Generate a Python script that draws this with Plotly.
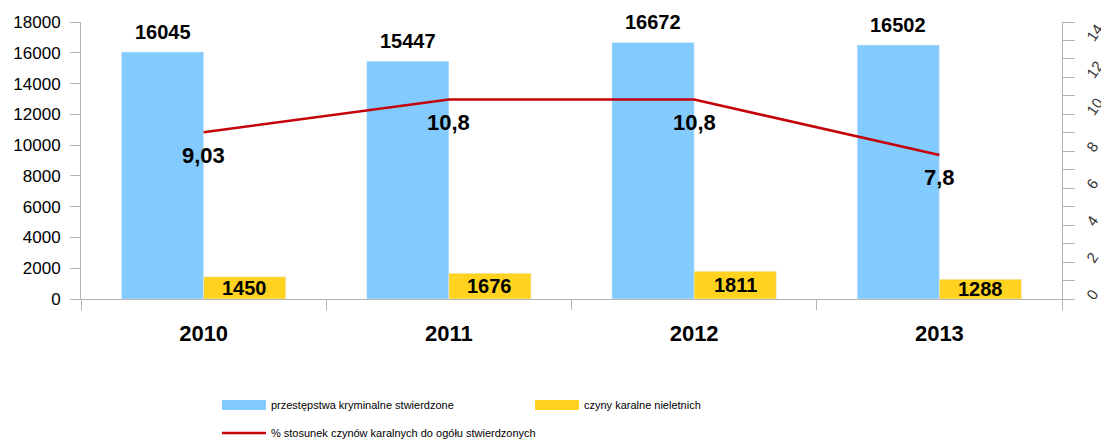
import plotly.graph_objects as go

years = ["2010", "2011", "2012", "2013"]
crimes = [16045, 15447, 16672, 16502]
juvenile = [1450, 1676, 1811, 1288]
percent = [9.03, 10.8, 10.8, 7.8]

BLUE = "#83caff"
YELLOW = "#ffd320"
RED = "#c5000b"
AXIS = "#b3b3b3"
FONT = "Liberation Sans, Arial, sans-serif"

fig = go.Figure()
fig.add_trace(go.Bar(x=years, y=crimes, marker_color=BLUE, name="przestępstwa kryminalne stwierdzone",
                     showlegend=False))
fig.add_trace(go.Bar(x=years, y=juvenile, marker_color=YELLOW, name="czyny karalne nieletnich",
                     showlegend=False))
fig.add_trace(go.Scatter(x=years, y=percent, yaxis="y2", mode="lines",
                         line=dict(color=RED, width=2.6), showlegend=False,
                         name="% stosunek czynów karalnych do ogółu stwierdzonych"))

# legend-only entries (wide swatches), drawn on a hidden spare axis pair, one legend box each
for nm, col, w, lg in [("przestępstwa kryminalne stwierdzone", BLUE, 10, "legend"),
                       ("czyny karalne nieletnich", YELLOW, 10, "legend2"),
                       ("% stosunek czynów karalnych do ogółu stwierdzonych", RED, 2.6, "legend3")]:
    fig.add_trace(go.Scatter(x=[0], y=[None], xaxis="x3", yaxis="y3", mode="lines",
                             line=dict(color=col, width=w), name=nm, legend=lg))

def fmt(v):
    return ("%g" % v).replace(".", ",")

annotations = []
for i, c in enumerate(crimes):
    annotations.append(dict(x=i, y=c, xref="x", yref="y", text=f"<b>{c}</b>", showarrow=False,
                            xshift=-41, yshift=20, font=dict(family=FONT, size=20, color="#000")))
for i, j in enumerate(juvenile):
    annotations.append(dict(x=i, y=j / 2, xref="x", yref="y", text=f"<b>{j}</b>", showarrow=False,
                            xshift=41, font=dict(family=FONT, size=20, color="#000")))
for i, p in enumerate(percent):
    annotations.append(dict(x=i, y=p, xref="x", yref="y2", text=f"<b>{fmt(p)}</b>", showarrow=False,
                            yshift=-23, font=dict(family=FONT, size=22, color="#000")))

legend_common = dict(orientation="h", xanchor="left", yanchor="middle", itemwidth=44,
                     bgcolor="rgba(0,0,0,0)", font=dict(family=FONT, size=11, color="#000"))

fig.update_layout(
    width=1101, height=435,
    margin=dict(l=73, r=47, t=14, b=144, autoexpand=False),
    plot_bgcolor="white", paper_bgcolor="white",
    barmode="group", bargap=0.33, bargroupgap=0,
    font=dict(family=FONT, color="#000"),
    annotations=annotations,
    xaxis=dict(type="category", categoryarray=years, categoryorder="array",
               range=[-0.5, len(years) - 0.5], automargin=False,
               showline=True, linecolor=AXIS, linewidth=1,
               ticks="outside", tickson="boundaries", ticklen=10, tickcolor=AXIS,
               tickfont=dict(family=FONT, size=22, color="#000", weight="bold"),
               tickangle=0, ticklabelstandoff=15, showgrid=False),
    yaxis=dict(range=[0, 18000], dtick=2000, tickformat="d", showline=True, linecolor=AXIS,
               automargin=False,
               ticks="outside", ticklen=10, tickcolor=AXIS, showgrid=False, zeroline=False,
               tickfont=dict(family=FONT, size=17, color="#000"), ticklabelstandoff=6),
    yaxis2=dict(range=[0, 15], dtick=2, overlaying="y", side="right", showline=True, linecolor=AXIS,
                automargin=False,
                ticks="outside", ticklen=12, tickcolor=AXIS, showgrid=False, zeroline=False,
                minor=dict(dtick=1, ticks="outside", ticklen=12, tickcolor=AXIS, showgrid=False),
                tickangle=-55, ticklabelstandoff=10,
                tickfont=dict(family=FONT, size=15, color="#333")),
    xaxis3=dict(visible=False, overlaying="x", range=[0, 1]),
    yaxis3=dict(visible=False, overlaying="y", range=[0, 1]),
    legend=dict(x=0.1386, y=-0.3827, **legend_common),
    legend2=dict(x=0.4577, y=-0.3827, **legend_common),
    legend3=dict(x=0.1386, y=-0.4838, **legend_common),
)

fig.write_html("out.html")
